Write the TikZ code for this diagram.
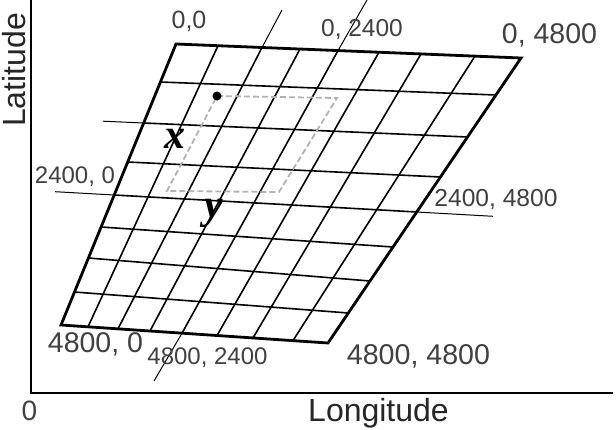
\documentclass[tikz,border=0pt]{standalone}
\usepackage{fontspec}
\setmainfont{Liberation Sans}
\newfontfamily\lserif{Liberation Serif}
\begin{document}
\begin{tikzpicture}[x=1pt,y=-1pt,
  outer/.style={line width=2.8pt,line join=miter},
  gridline/.style={line width=1.6pt},
  ext/.style={line width=1pt},
  axis/.style={line width=2.8pt},
  dashbox/.style={draw=black!30,line width=1.8pt,dash pattern=on 6pt off 3pt},
  lbl/.style={text=black!75,inner sep=0pt,anchor=base},
  varlbl/.style={inner sep=0pt,font=\lserif\bfseries\itshape\fontsize{42}{42}\selectfont}]
\useasboundingbox (0,0) rectangle (616,429);
% corners and edge points
\coordinate (t0) at (176,44);
\coordinate (t1) at (218,45.7);
\coordinate (t2) at (262,47.5);
\coordinate (t3) at (300,49.0);
\coordinate (t4) at (338,50.6);
\coordinate (t5) at (379,52.2);
\coordinate (t6) at (421,53.9);
\coordinate (t7) at (475,56.1);
\coordinate (t8) at (521,58);
\coordinate (b0) at (61,325);
\coordinate (b1) at (88,326.8);
\coordinate (b2) at (118,328.8);
\coordinate (b3) at (150,331.0);
\coordinate (b4) at (182,333.2);
\coordinate (b5) at (217,335.5);
\coordinate (b6) at (253,337.9);
\coordinate (b7) at (293,340.6);
\coordinate (b8) at (328,343);
\coordinate (l1) at (160.4,82);
\coordinate (l2) at (143.7,123);
\coordinate (l3) at (127.7,162);
\coordinate (l4) at (114.2,195);
\coordinate (l5) at (101.1,227);
\coordinate (l6) at (88.4,258);
\coordinate (l7) at (74.5,292);
\coordinate (r1) at (495.9,95);
\coordinate (r2) at (467.5,137);
\coordinate (r3) at (440.4,177);
\coordinate (r4) at (416.7,212);
\coordinate (r5) at (393.0,247);
\coordinate (r6) at (370.0,281);
\coordinate (r7) at (348.3,313);
% extension ends
\coordinate (e1) at (282,10);
\coordinate (e2) at (367,0);
\coordinate (e3) at (154,381);
\coordinate (e4) at (103,121.2);
\coordinate (e5) at (55,191.7);
\coordinate (e6) at (493,216.3);
% axes
\coordinate (ax0) at (31,0);
\coordinate (axo) at (31,393);
\coordinate (ax1) at (613,393);
\draw[axis] (ax0) -- (axo) -- (ax1);
% grid
\foreach \i in {1,...,7} {
  \draw[gridline] (t\i) -- (b\i);
  \draw[gridline] (l\i) -- (r\i);
}
\draw[outer] (t0) -- (t8) -- (b8) -- (b0) -- cycle;
% extensions
\draw[ext] (t2) -- (e1);
\draw[ext] (t4) -- (e2);
\draw[ext] (b4) -- (e3);
\draw[ext] (l2) -- (e4);
\draw[ext] (l4) -- (e5);
\draw[ext] (r4) -- (e6);
% dashed box and point
\coordinate (d1) at (217,96);
\coordinate (d2) at (337,98);
\coordinate (d3) at (279,192);
\coordinate (d4) at (167,191);
\draw[dashbox] (d1) -- (d2) -- (d3) -- (d4) -- cycle;
\node[circle,fill=black,inner sep=0pt,minimum size=9pt] (pt) at (d1) {};
% variable labels
\node[varlbl] (xl) at (175,139) {x};
\node[varlbl] (yl) at (214,213) {y};
% coordinate labels
\node[lbl,font=\fontsize{25}{25}\selectfont] (c00) at (189,28) {0,0};
\node[lbl,font=\fontsize{24.5}{25}\selectfont] (c02) at (362,36) {0, 2400};
\node[lbl,font=\fontsize{28.5}{29}\selectfont] (c04) at (549.5,43) {0, 4800};
\node[lbl,font=\fontsize{24}{24}\selectfont] (c20) at (75,183) {2400, 0};
\node[lbl,font=\fontsize{24.6}{25}\selectfont] (c24) at (496,206) {2400, 4800};
\node[lbl,font=\fontsize{28.5}{29}\selectfont] (c40) at (95.5,352) {4800, 0};
\node[lbl,font=\fontsize{24}{24}\selectfont] (c42) at (207.5,364) {4800, 2400};
\node[lbl,font=\fontsize{28.6}{29}\selectfont] (c44) at (418.5,364) {4800, 4800};
\node[lbl,font=\fontsize{28}{28}\selectfont] (zero) at (29.5,420) {0};
\node[lbl,text=black!85,font=\fontsize{32}{32}\selectfont] (lon) at (378.5,421.5) {Longitude};
\node[lbl,text=black!85,font=\fontsize{32}{32}\selectfont,rotate=90] (lat) at (25,70) {Latitude};
\end{tikzpicture}
\end{document}
